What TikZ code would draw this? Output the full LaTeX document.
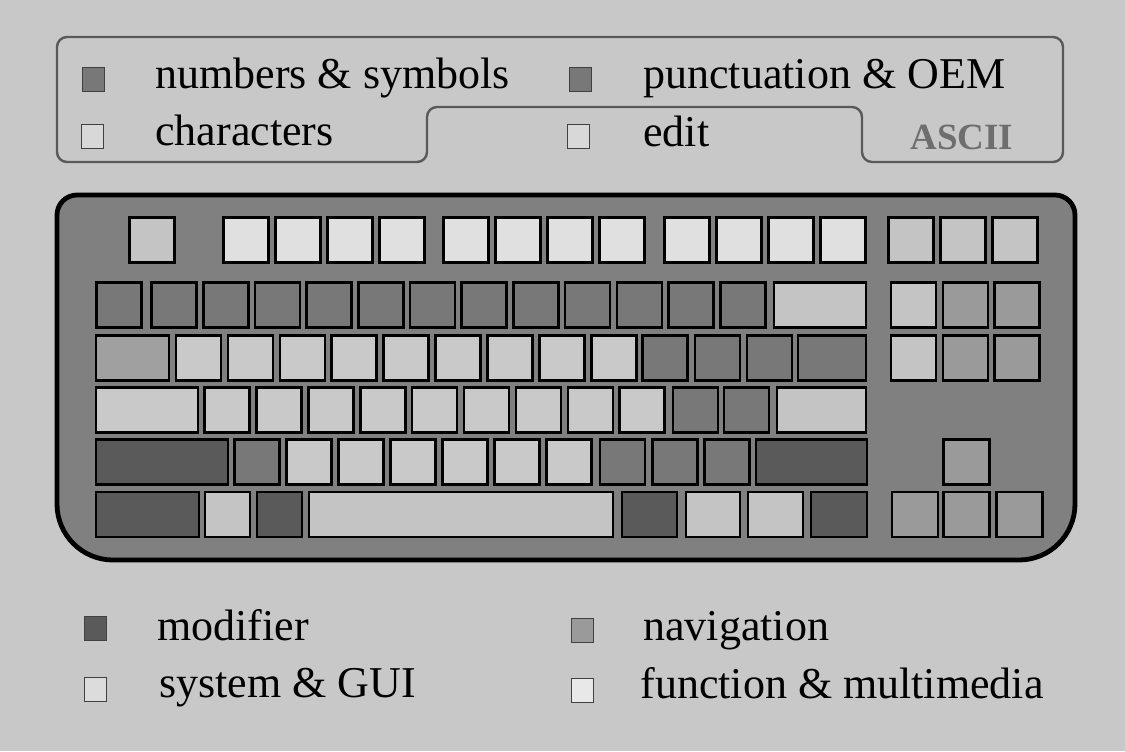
\documentclass[tikz,border=0pt]{standalone}
\usepackage{fontspec}
\setmainfont{Liberation Serif}
\usetikzlibrary{positioning}
\definecolor{bg}{HTML}{C8C8C8}
\definecolor{body}{HTML}{808080}
\definecolor{fkey}{HTML}{E0E0E0}
\definecolor{edt}{HTML}{C4C4C4}
\definecolor{chr}{HTML}{C9C9C9}
\definecolor{num}{HTML}{787878}
\definecolor{mdf}{HTML}{5A5A5A}
\definecolor{nav}{HTML}{9A9A9A}
\definecolor{tabk}{HTML}{A0A0A0}
\definecolor{lgchr}{HTML}{D8D8D8}
\definecolor{lgsys}{HTML}{DCDCDC}
\definecolor{lgfn}{HTML}{E8E8E8}
\tikzset{
  key/.style={draw,line width=1.3pt,inner sep=0pt,minimum width=22.5pt,minimum height=22.5pt},
  legsq/.style={draw=black!75,line width=0.5pt,inner sep=0pt,minimum width=11pt,minimum height=12pt},
  leg/.style={anchor=base west,inner sep=0pt,font=\fontsize{22}{26}\selectfont},
}

\begin{document}
\begin{tikzpicture}[x=0.5pt,y=-0.5pt]
  \useasboundingbox[fill=bg] (0,0) rectangle (1125,751);
  % top legend
  \draw[draw=black!65,line width=1.2pt,rounded corners=5pt] (57,162) -- (57,37) -- (1063,37) -- (1063,162) -- (862,162) -- (862,107) -- (427,107) -- (427,162) -- cycle;
  \node[legsq,fill=num] (lg-num) at (93,79){};
  \node[leg] (tx-num) at (155,88){numbers \& symbols};
  \node[legsq,fill=num] (lg-pun) at (580,79){};
  \node[leg] (tx-pun) at (643,88){punctuation \& OEM};
  \node[legsq,fill=lgchr] (lg-chr) at (92,136){};
  \node[leg] (tx-chr) at (155,145){characters};
  \node[legsq,fill=lgchr] (lg-edt) at (578,136){};
  \node[leg] (tx-edt) at (643,146){edit};
  \node[anchor=base west,inner sep=0pt,font=\fontsize{18.5}{20}\selectfont\bfseries,text=black!57] (ascii) at (910,149){ASCII};
  % keyboard body
  \draw[fill=body,line width=2.4pt] (57,400) [rounded corners=10pt] -- (57,195) -- (1075,195) -- (1075,400) [rounded corners=28pt] -- (1075,560) -- (57,560) -- cycle;
  % row 1
  \node[key,fill=edt] (esc) at (152,240){};
  \foreach \x [count=\i] in {246,298,350,402,466,518,570,622,687,739,791,843}
    \node[key,fill=fkey] (f\i) at (\x,240){};
  \foreach \x [count=\i] in {911,963,1015}
    \node[key,fill=edt] (sys\i) at (\x,240){};
  % row 2
  \node[key,fill=num] (num0) at (119,305){};
  \foreach \i in {1,...,12}
    \node[key,fill=num] (num\i) at ({174+51.7*(\i-1)},305){};
  \node[key,fill=edt,minimum width=46pt] (bksp) at (820,305){};
  \node[key,fill=edt] (ins) at (913.5,305){};
  \node[key,fill=nav] (home) at (965.5,305){};
  \node[key,fill=nav] (pgup) at (1017,305){};
  % row 3
  \node[key,fill=tabk,minimum width=36.5pt] (tab) at (132.5,358){};
  \foreach \i in {0,...,8}
    \node[key,fill=chr] (q\i) at ({198.5+51.9*\i},358){};
  \foreach \x [count=\i] in {665,717.5,769.5}
    \node[key,fill=num] (brk\i) at (\x,358){};
  \node[key,fill=num,minimum width=34pt] (bsl) at (832,358){};
  \node[key,fill=edt] (del) at (913.5,358){};
  \node[key,fill=nav] (end) at (965.5,358){};
  \node[key,fill=nav] (pgdn) at (1017,358){};
  % row 4
  \node[key,fill=chr,minimum width=51pt] (caps) at (147,410){};
  \foreach \i in {0,...,8}
    \node[key,fill=chr] (a\i) at ({227+51.9*\i},410){};
  \node[key,fill=num] (semi) at (695.5,410){};
  \node[key,fill=num] (quot) at (746.5,410){};
  \node[key,fill=edt,minimum width=44.5pt] (enter) at (821.5,410){};
  % row 5
  \node[key,fill=mdf,minimum width=66pt] (lshift) at (162,462){};
  \node[key,fill=num] (oem) at (257,462){};
  \foreach \i in {0,...,5}
    \node[key,fill=chr] (z\i) at ({309+52*\i},462){};
  \foreach \x [count=\i] in {622.5,675,727}
    \node[key,fill=num] (pnc\i) at (\x,462){};
  \node[key,fill=mdf,minimum width=55.5pt] (rshift) at (811.5,462){};
  \node[key,fill=nav,minimum width=23pt] (up) at (966.5,462){};
  % row 6
  \node[key,fill=mdf,minimum width=51.5pt] (lctrl) at (147.5,514.5){};
  \node[key,fill=edt] (lwin) at (227.5,514.5){};
  \node[key,fill=mdf] (lalt) at (279.5,514.5){};
  \node[key,fill=edt,minimum width=152pt] (space) at (461,514.5){};
  \node[key,fill=mdf,minimum width=27.5pt] (ralt) at (649.5,514.5){};
  \node[key,fill=edt,minimum width=27pt] (rwin) at (713,514.5){};
  \node[key,fill=edt,minimum width=27.5pt] (menu) at (775.5,514.5){};
  \node[key,fill=mdf,minimum width=28pt] (rctrl) at (839,514.5){};
  \foreach \x [count=\i] in {915,966.5,1019.5}
    \node[key,fill=nav,minimum width=23pt] (arr\i) at (\x,514.5){};
  % bottom legend
  \node[legsq,fill=mdf] (lg-mdf) at (95,628){};
  \node[leg] (tx-mdf) at (157,640){modifier};
  \node[legsq,fill=nav] (lg-nav) at (582,630){};
  \node[leg] (tx-nav) at (643,640){navigation};
  \node[legsq,fill=lgsys] (lg-sys) at (95,689){};
  \node[leg] (tx-sys) at (159,697){system \& GUI};
  \node[legsq,fill=lgfn] (lg-fn) at (582,690){};
  \node[leg] (tx-fn) at (640,698){function \& multimedia};
\end{tikzpicture}
\end{document}
